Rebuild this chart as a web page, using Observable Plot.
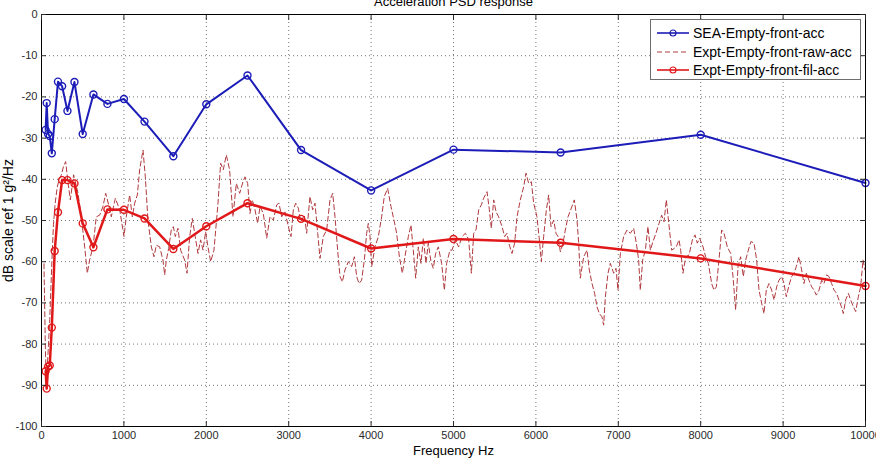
<!DOCTYPE html>
<html>
<head>
<meta charset="utf-8">
<script src="https://cdn.jsdelivr.net/npm/d3@7"></script>
<script src="https://cdn.jsdelivr.net/npm/@observablehq/plot@0.6"></script>
<style>
  html, body { margin: 0; padding: 0; background: #fff; }
  #wrap { position: relative; width: 876px; height: 458px; overflow: hidden; }
  #legend {
    position: absolute; left: 650px; top: 19px; width: 209px; height: 59px;
    border: 1px solid #6e6e6e; background: #fff;
    font-family: "Liberation Sans", Arial, sans-serif; font-size: 14px; color: #000;
  }
  #legend .row { position: absolute; left: 0; height: 18px; display: flex; align-items: center; }
  #legend svg { display: block; margin-left: 6px; margin-right: 4px; }
</style>
</head>
<body>
<div id="wrap"><div id="legend"></div></div>
<script>
// 1/3-octave band centre frequencies (Hz)
const bandHz = [50, 63, 80, 100, 125, 160, 200, 250, 315, 400, 500, 630, 800, 1000,
  1250, 1600, 2000, 2500, 3150, 4000, 5000, 6300, 8000, 10000];

// SEA prediction per band (dB ref 1 g^2/Hz)
const seaDb = [-28, -21.5, -29, -29.5, -33.7, -25.4, -16.3, -17.4, -23.4, -16.4, -29, -19.4,
  -21.7, -20.5, -26, -34.4, -21.8, -14.8, -32.9, -42.7, -32.8, -33.5, -29.2, -40.9];

// Measured, band-filtered response per band
const filDb = [-86.6, -90.8, -85.5, -85.2, -76, -57.4, -48, -40.2, -40.2, -41, -50.7, -56.5,
  -47.3, -47.4, -49.5, -56.9, -51.4, -45.8, -49.6, -56.8, -54.5, -55.4, -59.2, -65.9];

// Measured raw narrowband response
const rawHz = [30, 38, 46, 55, 63, 72, 85, 100, 115, 130, 145, 165, 190, 215, 240, 265,
  293, 320, 350, 390, 443, 483, 524, 556, 584, 625, 665, 706, 746, 779, 815, 847, 896, 949,
  1001, 1029, 1070, 1102, 1131, 1163, 1191, 1232, 1260, 1292, 1333, 1365, 1394, 1434, 1474,
  1495, 1515, 1543, 1575, 1600, 1624, 1656, 1689, 1737, 1766, 1798, 1830, 1859, 1899, 1931,
  1960, 1992, 2020, 2053, 2093, 2142, 2174, 2206, 2243, 2283, 2324, 2364, 2405, 2445,
  2470, 2502, 2530, 2559, 2591, 2623, 2652, 2692, 2733, 2773, 2814, 2854, 2882, 2915, 2955,
  2996, 3028, 3056, 3085, 3117, 3145, 3190, 3218, 3258, 3291, 3319, 3352, 3380, 3420, 3461,
  3501, 3534, 3562, 3594, 3623, 3651, 3683, 3724, 3764, 3797, 3825, 3853, 3885, 3918, 3946,
  3966, 3987, 4007, 4047, 4088, 4128, 4160, 4201, 4241, 4282, 4310, 4343, 4379, 4411, 4452,
  4484, 4512, 4541, 4573, 4605, 4634, 4666, 4694, 4727, 4755, 4783, 4816, 4856, 4889, 4917,
  4957, 4982, 5022, 5063, 5103, 5144, 5184, 5217, 5245, 5273, 5306, 5338, 5366, 5407, 5435,
  5459, 5488, 5516, 5548, 5589, 5621, 5649, 5678, 5710, 5742, 5771, 5811, 5852, 5880, 5912,
  5945, 5973, 6013, 6042, 6066, 6094, 6127, 6155, 6183, 6216, 6244, 6268, 6297, 6329, 6357,
  6390, 6430, 6466, 6499, 6519, 6539, 6580, 6620, 6648, 6681, 6713, 6741, 6770, 6802, 6822,
  6843, 6875, 6903, 6944, 6972, 6996, 7025, 7065, 7106, 7146, 7186, 7219, 7247, 7267, 7296,
  7328, 7360, 7389, 7421, 7457, 7494, 7526, 7555, 7583, 7615, 7648, 7676, 7704, 7737, 7757,
  7785, 7818, 7858, 7899, 7931, 7959, 7987, 8028, 8060, 8093, 8133, 8161, 8190, 8222, 8254,
  8283, 8323, 8364, 8392, 8424, 8453, 8485, 8517, 8546, 8578, 8610, 8647, 8679, 8708, 8740,
  8768, 8796, 8829, 8861, 8890, 8922, 8950, 8983, 9011, 9039, 9072, 9104, 9132, 9160, 9193,
  9225, 9253, 9282, 9314, 9347, 9375, 9403, 9436, 9468, 9496, 9529, 9557, 9589, 9618, 9650,
  9678, 9707, 9731, 9759, 9792, 9820, 9852, 9881, 9913, 9941, 9970, 9994];
const rawDb = [-60.5, -70, -80, -87, -88, -85, -80, -74, -66, -58, -51, -46, -42, -40, -39, -37,
  -35.7, -40.5, -45, -38.9, -43.4, -49.1, -56.4, -62.8, -59.6, -56.4, -49.1, -48.7, -46.6,
  -43.4, -46.2, -49.1, -44.6, -47.4, -53.9, -49.1, -43.8, -49.1, -45.8, -43.8, -37.7, -32.9,
  -39.4, -49.9, -56.4, -58.8, -56, -56.4, -59.6, -63.2, -59.6, -56.8, -52.3, -51.5, -53.9,
  -51.9, -57.2, -59.6, -62.8, -53.9, -49.5, -53.1, -58, -54.7, -57.2, -52.7, -56.4, -60,
  -57.2, -45.8, -36.1, -37.7, -34.1, -37.7, -49.1, -41, -43.4, -40.6,
  -39.4, -41, -48.3, -45, -47.4, -50.7, -46.6, -48.3, -54.3, -49.1, -49.9, -46.2, -45.8,
  -49.1, -47.9, -51.5, -53.9, -47.4, -45.8, -47, -50.3, -48.7, -53.1, -44.2, -47.4, -45.8,
  -53.1, -59.2, -53.9, -52.3, -45, -43.4, -49.1, -57.2, -63.6, -64.9, -62, -60, -61.2,
  -58.8, -63.6, -65.3, -64.5, -59.6, -53.1, -50.7, -53.9, -61.2, -56.4, -53.9, -49.1,
  -44.2, -42.2, -46.6, -50.3, -53.1, -58.8, -62.8, -58.8, -53.9, -51.1, -57.2, -64, -56.4,
  -60.4, -54.3, -60.4, -55.5, -60, -61.6, -58, -56.4, -60.4, -66.9, -60.4, -57.2,
  -57.2, -54.7, -56.4, -53.9, -53.1, -54.7, -62.8, -53.1, -52.3, -47.4, -46.2, -44.6, -43,
  -47.4, -51.9, -45, -47.9, -49.1, -51.5, -53.9, -53.1, -56, -58, -55.5, -49.1, -45, -41.8,
  -38.5, -41, -40.6, -45.8, -49.1, -54.7, -60, -53.9, -47.4, -43.8, -51.5, -49.9, -53.1,
  -53.9, -57.6, -55.5, -52.3, -49.1, -47, -45, -49.9, -55.5, -64, -58.8, -57.2, -62, -65.3,
  -67.7, -70.9, -72.6, -73.4, -75.4, -68.5, -62.8, -60.4, -62.8, -61.6, -66.9, -58, -53.9,
  -52.3, -53.1, -51.9, -55.5, -59.6, -66.9, -59.6, -57.2, -51.5, -57.2, -55.1, -53.1,
  -50.7, -48.7, -50.3, -45, -51.1, -57.2, -56.8, -56.4, -54.7, -57.2, -62.8, -58.8, -58.4,
  -54.7, -53.5, -55.5, -54.3, -56.4, -58.8, -60.4, -65.3, -66.9, -66.1, -59.6, -52.3, -53.1,
  -56.4, -58, -63.6, -71.7, -61.2, -58.8, -63.6, -59.6, -57.2, -55.1, -55.5, -59.6, -66.9,
  -70.1, -72.6, -66.9, -65.3, -66.9, -69.3, -66.1, -64.5, -63.6, -65.3, -68.5, -65.7, -63.6,
  -62.8, -61.2, -58.8, -62, -65.3, -62.8, -64.5, -66.1, -66.9, -68.1, -66.9, -64.5, -65.3,
  -63.2, -63.6, -65.3, -66.9, -67.7, -69.3, -70.9, -72.6, -69.3, -67.7, -69.3, -70.9, -72.1,
  -68.5, -66.1, -59.6, -62];

const xTicks = d3.range(0, 10001, 1000);
const yTicks = d3.range(-100, 1, 10);

const seriesNames = ["SEA-Empty-front-acc", "Expt-Empty-front-raw-acc", "Expt-Empty-front-fil-acc"];
const seaColor = "#1c1cb8";
const rawColor = "#b03a3e";
const filColor = "#e0181a";

const sea = bandHz.map((f, i) => ({f, db: seaDb[i]}));
const fil = bandHz.map((f, i) => ({f, db: filDb[i]}));
const raw = rawHz.map((f, i) => ({f, db: rawDb[i]}));

const fmt = d => String(d);
const font = "'Liberation Sans', Arial, sans-serif";

const chart = Plot.plot({
  width: 876,
  height: 458,
  marginTop: 14,
  marginBottom: 32,
  marginLeft: 41,
  marginRight: 11,
  style: {fontFamily: font, fontSize: "11px", color: "#2a2a2a", background: "#fff"},
  x: {domain: [0, 10000], label: null},
  y: {domain: [-100, 0], label: null},
  marks: [
    Plot.gridX(xTicks, {stroke: "#000", strokeOpacity: 0.55, strokeDasharray: "1,3"}),
    Plot.gridY(yTicks, {stroke: "#000", strokeOpacity: 0.55, strokeDasharray: "1,3"}),
    Plot.line(raw, {x: "f", y: "db", stroke: rawColor, strokeWidth: 1, strokeDasharray: "5,3"}),
    Plot.line(sea, {x: "f", y: "db", stroke: seaColor, strokeWidth: 2}),
    Plot.dot(sea, {x: "f", y: "db", r: 3.5, stroke: seaColor, strokeWidth: 1.4, fill: "none"}),
    Plot.line(fil, {x: "f", y: "db", stroke: filColor, strokeWidth: 2.5}),
    Plot.dot(fil, {x: "f", y: "db", r: 3.5, stroke: filColor, strokeWidth: 1.4, fill: "none"}),
    Plot.frame({stroke: "#000"}),
    Plot.axisX({ticks: xTicks, tickSize: -5, tickPadding: 10, tickFormat: fmt, label: null}),
    Plot.axisX({anchor: "top", ticks: xTicks, tickSize: -5, tickFormat: () => "", label: null}),
    Plot.axisY({ticks: yTicks, tickSize: -5, tickPadding: 9, tickFormat: fmt, label: null}),
    Plot.axisY({anchor: "right", ticks: yTicks, tickSize: -6, tickFormat: () => "", label: null}),
    Plot.text(["Acceleration PSD response"], {frameAnchor: "top", dy: -9, textAnchor: "middle", lineAnchor: "bottom", fontSize: 13, fill: "#000"}),
    Plot.text(["Frequency Hz"], {frameAnchor: "bottom", dy: 24, textAnchor: "middle", lineAnchor: "middle", fontSize: 13, fill: "#000"}),
    Plot.text(["dB scale ref 1 g²/Hz"], {frameAnchor: "left", dx: -33, rotate: -90, textAnchor: "middle", lineAnchor: "middle", fontSize: 14, fill: "#000"})
  ]
});
document.getElementById("wrap").prepend(chart);

// legend entries: line sample with optional marker, then the series name
const legend = document.getElementById("legend");
const styles = [
  {stroke: seaColor, width: 1.6, dash: null, marker: true},
  {stroke: rawColor, width: 1, dash: "5,3", marker: false},
  {stroke: filColor, width: 1.6, dash: null, marker: true}
];
seriesNames.forEach((name, i) => {
  const s = styles[i];
  const row = document.createElement("div");
  row.className = "row";
  row.style.top = (4 + i * 18.5) + "px";
  row.innerHTML =
    `<svg width="32" height="10"><line x1="0" y1="5" x2="32" y2="5" stroke="${s.stroke}" stroke-width="${s.width}"` +
    (s.dash ? ` stroke-dasharray="${s.dash}"` : "") + `/>` +
    (s.marker ? `<circle cx="16" cy="5" r="3" fill="none" stroke="${s.stroke}" stroke-width="1.2"/>` : "") +
    `</svg><span>${name}</span>`;
  legend.appendChild(row);
});
</script>
</body>
</html>
